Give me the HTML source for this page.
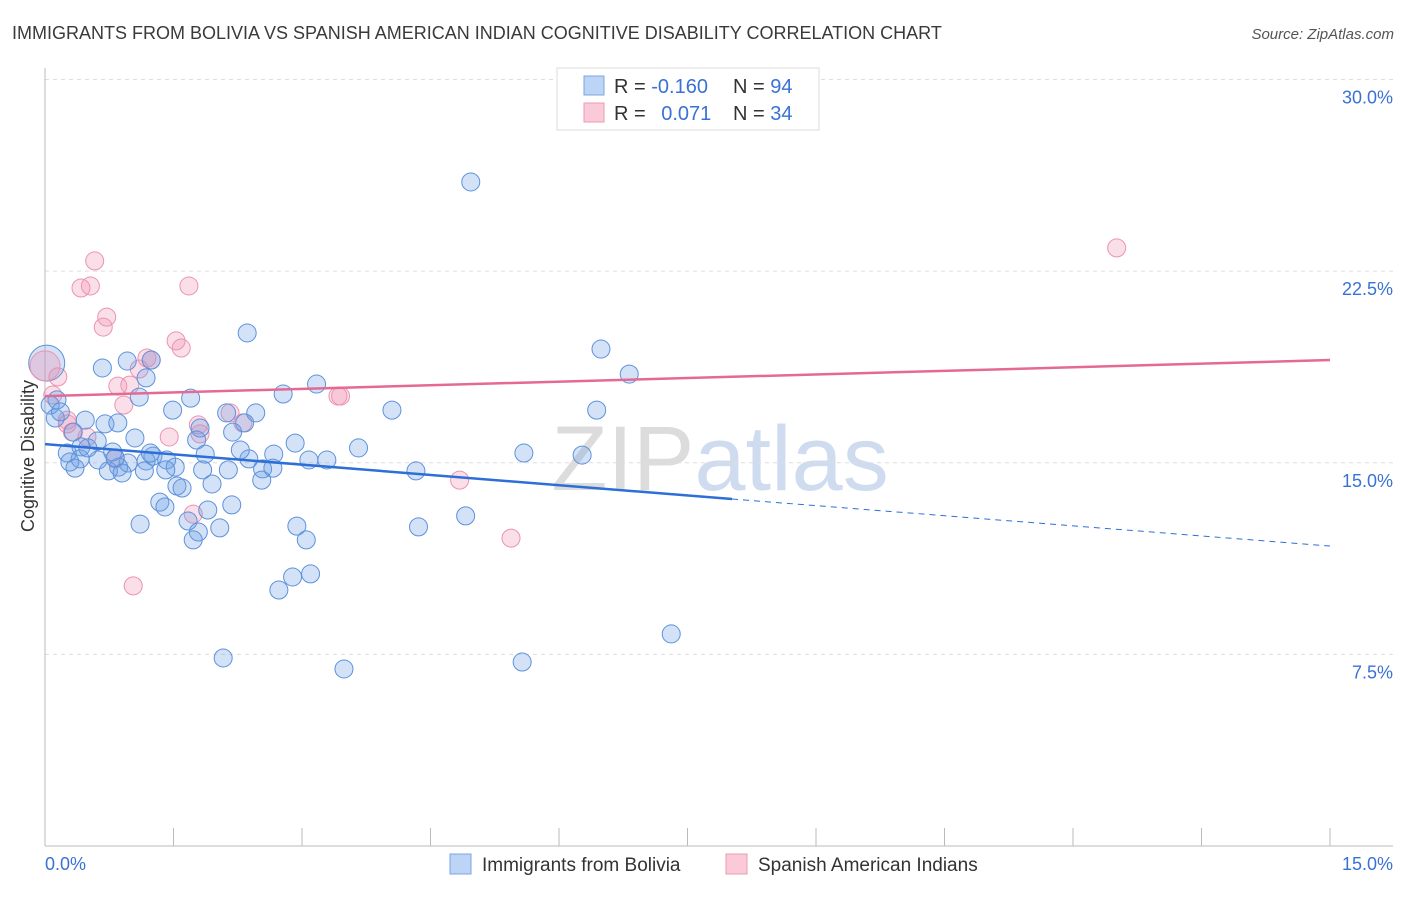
<!DOCTYPE html>
<html><head><meta charset="utf-8"><style>
body{margin:0;background:#fff;font-family:"Liberation Sans",sans-serif;}
svg text{font-family:"Liberation Sans",sans-serif;}
</style></head><body>
<svg id="chart" width="1406" height="892" xmlns="http://www.w3.org/2000/svg">
<text x="12" y="39" font-size="18" fill="#3a3a3a">IMMIGRANTS FROM BOLIVIA VS SPANISH AMERICAN INDIAN COGNITIVE DISABILITY CORRELATION CHART</text>
<text x="1394" y="39" font-size="15" fill="#555" font-style="italic" text-anchor="end">Source: ZipAtlas.com</text>
<text x="720" y="490" font-size="92" fill="#e2e6ec" text-anchor="middle" font-family="Liberation Serif"><tspan fill="#dcdcdc">ZIP</tspan><tspan fill="#cfdcf0" font-family="Liberation Sans">atlas</tspan></text>
<g id="grid"></g>
<g id="axes"></g>
<g id="marks"></g>
<text transform="translate(34,456) rotate(-90)" font-size="18" fill="#333" text-anchor="middle">Cognitive Disability</text>
<g>
<rect x="557" y="68" width="262" height="62" fill="#fff" stroke="#ddd"/>
<rect x="584" y="76" width="20" height="19" fill="#bcd4f5" stroke="#7ba4e0"/>
<rect x="584" y="103" width="20" height="19" fill="#fbcad8" stroke="#eb9ab3"/>
<text x="614" y="93" font-size="20" fill="#333">R = <tspan fill="#3a72d4">-0.160</tspan></text>
<text x="733" y="93" font-size="20" fill="#333">N = <tspan fill="#3a72d4">94</tspan></text>
<text x="614" y="120" font-size="20" fill="#333">R = <tspan fill="#3a72d4" dx="10">0.071</tspan></text>
<text x="733" y="120" font-size="20" fill="#333">N = <tspan fill="#3a72d4">34</tspan></text>
</g>
<g>
<rect x="450" y="854" width="21" height="20" fill="#bcd4f5" stroke="#7ba4e0"/>
<text x="482" y="871" font-size="19" fill="#333">Immigrants from Bolivia</text>
<rect x="726" y="854" width="21" height="20" fill="#fbcad8" stroke="#eb9ab3"/>
<text x="758" y="871" font-size="19" fill="#333">Spanish American Indians</text>
</g>
</svg>
<script>
const yTicks=[7.5,15,22.5,30];
const yTickLabels=["7.5%","15.0%","22.5%","30.0%"];
const xTicks=[0,1.5,3,4.5,6,7.5,9,10.5,12,13.5,15];
const blueX=[4.97,2.36,6.49,6.82,0.96,0.67,1.24,1.18,3.17,2.78,1.10,1.70,0.14,0.06,4.05,6.44,1.49,2.12,2.46,0.12,0.47,0.70,0.85,2.33,1.81,2.19,0.33,1.05,1.77,2.92,0.61,3.66,0.42,0.79,5.59,6.27,0.26,2.67,1.26,2.38,1.42,0.41,0.62,3.08,3.29,0.29,0.97,1.18,0.86,1.52,1.84,2.14,2.54,4.33,0.35,0.74,0.90,1.16,1.41,2.66,1.54,1.60,1.95,2.53,1.34,1.40,2.18,1.90,4.91,1.67,1.11,2.94,4.36,2.04,1.79,1.73,3.05,2.89,3.10,2.73,7.31,2.08,5.57,3.49,0.18,0.82,0.50,1.23,1.87,2.28];
const blueY=[25.99,20.08,19.45,18.47,18.98,18.71,19.02,18.32,18.08,17.69,17.57,17.53,17.46,17.26,17.06,17.06,17.06,16.95,16.95,16.75,16.67,16.52,16.56,16.56,16.36,16.20,16.20,15.97,15.89,15.77,15.85,15.58,15.62,15.42,15.38,15.30,15.38,15.34,15.26,15.15,15.11,15.15,15.11,15.11,15.11,15.03,14.99,15.07,14.83,14.83,14.72,14.72,14.76,14.68,14.79,14.68,14.60,14.68,14.72,14.79,14.09,14.01,14.17,14.32,13.46,13.27,13.35,13.15,12.92,12.72,12.60,12.52,12.49,12.45,12.29,11.98,11.98,10.53,10.65,10.02,8.30,7.36,7.20,6.93,16.99,15.19,15.58,15.38,15.34,15.50];
const pinkX=[0.58,0.42,0.53,1.68,0.72,0.68,1.53,1.59,1.19,1.24,1.10,0.15,0.99,0.09,0.85,0.92,3.42,3.45,2.16,1.79,2.31,1.81,0.26,0.32,0.49,1.45,0.82,4.84,5.44,1.73,1.03,12.51,0.26];
const pinkY=[22.90,21.84,21.92,21.92,20.70,20.31,19.77,19.49,19.10,19.02,18.67,18.36,18.04,17.65,18.00,17.26,17.61,17.61,16.95,16.48,16.56,16.13,16.52,16.20,16.01,16.01,15.15,14.32,12.05,12.99,10.18,23.41,16.67];
const bigBlue=[0.02,18.90];
const bigPink=[0,18.79];
const blueTrend=[0,15.73,8.02,13.58,15,11.74];
const pinkTrend=[0,17.61,15,19.02];

const NS="http://www.w3.org/2000/svg";
const X=v=>45+v/15*1285;
const Y=v=>846-v*25.55;
function mk(tag,attrs,parent){const e=document.createElementNS(NS,tag);for(const k in attrs)e.setAttribute(k,attrs[k]);document.getElementById(parent).appendChild(e);return e;}
yTicks.forEach((t,i)=>{
 const l=mk('line',{x1:45,x2:1393,y1:Y(t),y2:Y(t),stroke:'#ddd','stroke-dasharray':'4,4'},'grid');
 
 
 const tx=mk('text',{x:1393,y:Y(t)+24,'font-size':18,fill:'#3a72d4','text-anchor':'end'},'grid');
 tx.textContent=yTickLabels[i];
 
 
});
const ya=mk('line',{x1:45,x2:45,y1:68,y2:846,stroke:'#bbb'},'axes');


const xa=mk('line',{x1:45,x2:1393,y1:846,y2:846,stroke:'#bbb'},'axes');


xTicks.forEach(t=>{
 const l=mk('line',{x1:X(t),x2:X(t),y1:828,y2:846,stroke:'#bbb'},'axes');
 
 
});
const xl0=mk('text',{x:45,y:870,'font-size':18,fill:'#3a72d4'},'axes');
xl0.textContent='0.0%';


const xl1=mk('text',{x:1393,y:870,'font-size':18,fill:'#3a72d4','text-anchor':'end'},'axes');
xl1.textContent='15.0%';



pinkX.forEach((v,i)=>{
 const c=mk('circle',{cx:X(v),cy:Y(pinkY[i]),r:9,fill:'rgba(243,150,180,0.3)',stroke:'#eb94b0','stroke-width':1},'marks');
 
 
});
blueX.forEach((v,i)=>{
 const c=mk('circle',{cx:X(v),cy:Y(blueY[i]),r:9,fill:'rgba(110,160,230,0.3)',stroke:'#5d92dc','stroke-width':1},'marks');
 
 
});
const bb=mk('circle',{cx:X(bigBlue[0]),cy:Y(bigBlue[1]),r:18,fill:'rgba(110,160,230,0.3)',stroke:'#5d92dc'},'marks');


const bp=mk('circle',{cx:X(bigPink[0]),cy:Y(bigPink[1]),r:15,fill:'rgba(243,150,180,0.35)',stroke:'#eb94b0'},'marks');


const t1=mk('line',{x1:X(blueTrend[0]),y1:Y(blueTrend[1]),x2:X(blueTrend[2]),y2:Y(blueTrend[3]),stroke:'#2d6fd6','stroke-width':2.5},'marks');


const t2=mk('line',{x1:X(blueTrend[2]),y1:Y(blueTrend[3]),x2:X(blueTrend[4]),y2:Y(blueTrend[5]),stroke:'#2d6fd6','stroke-width':1,'stroke-dasharray':'6,5'},'marks');


const t3=mk('line',{x1:X(pinkTrend[0]),y1:Y(pinkTrend[1]),x2:X(pinkTrend[2]),y2:Y(pinkTrend[3]),stroke:'#e56a93','stroke-width':2.5},'marks');


</script>
</body></html>
